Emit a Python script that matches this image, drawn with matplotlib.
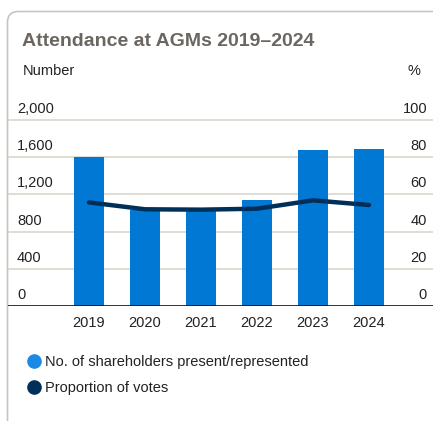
import numpy as np
import matplotlib
matplotlib.use("Agg")
import matplotlib.pyplot as plt
import matplotlib.transforms as mtransforms
from matplotlib.patches import FancyBboxPatch

# data
years = ['2019', '2020', '2021', '2022', '2023', '2024']
shareholders = [1600, 1030, 1020, 1140, 1680, 1690]
votes_pct = [55.7, 52.0, 51.8, 52.3, 56.8, 54.3]
left_ticks = [0, 400, 800, 1200, 1600, 2000]
left_labels = ['0', '400', '800', '1,200', '1,600', '2,000']
right_labels = ['0', '20', '40', '60', '80', '100']

bar_col = '#0078d4'
bar_leg_col = '#1a8ae6'
line_col = '#00305a'
grid_col = '#d6d3c9'
border_col = '#c9c5bd'
text_col = '#222222'

plt.rcParams['font.family'] = ['Liberation Sans', 'DejaVu Sans']

W, H = 433, 421
fig = plt.figure(figsize=(W / 100, H / 100), dpi=100)

# card outline (behind everything)
card = FancyBboxPatch((7.5 / W, -10 / H), 440 / W, (H - 11.5 + 10) / H,
                      boxstyle='round,pad=0,rounding_size=0.025',
                      transform=fig.transFigure, fc='white', ec=border_col, lw=1.2,
                      zorder=-5)
fig.patches.append(card)

# axes: x from px 8 to 433, y zero at px 306, 2000 at px 120
y0_px, y2000_px, top_px = 306, 120, 110
px_per_unit = (y0_px - y2000_px) / 2000
ytop = (y0_px - top_px) / px_per_unit
ax = fig.add_axes([8 / W, (H - y0_px) / H, (W - 8) / W, (y0_px - top_px) / H])
ax.patch.set_alpha(0)

x = np.arange(len(years))
# bar centres at px 89 + 56*i
xl = (8 - 89) / 56
xr = (433 - 89) / 56
ax.set_xlim(xl, xr)
ax.set_ylim(0, ytop)

for t in left_ticks[1:]:
    ax.axhline(t, color=grid_col, lw=1.1, zorder=0)
ax.axhline(0, color='#111111', lw=1.2, zorder=3)

ax.bar(x, shareholders, width=0.54, color=bar_col, zorder=2)

ax2 = ax.twinx()
ax2.patch.set_alpha(0)
ax2.set_ylim(0, ytop / 20)
ax2.plot(x, votes_pct, color=line_col, lw=3.2, solid_capstyle='round',
         solid_joinstyle='round', zorder=4)

for a in (ax, ax2):
    for s in a.spines.values():
        s.set_visible(False)
    a.set_yticks([])

ax.set_xticks(x)
ax.set_xticklabels(years, fontsize=10.5, color=text_col)
ax.tick_params(axis='x', length=0, pad=7.5)

# y labels sit above their grid lines
tr = mtransforms.blended_transform_factory(ax.transAxes, ax.transData)
tr = mtransforms.offset_copy(tr, fig=fig, y=4, units='dots')
for t, ll, rl in zip(left_ticks, left_labels, right_labels):
    ax.text(9 / (W - 8), t, ll, transform=tr, ha='left', va='bottom',
            fontsize=10.5, color=text_col)
    ax.text((427 - 8) / (W - 8), t, rl, transform=tr, ha='right', va='bottom',
            fontsize=10.5, color=text_col)

fig.text(22 / W, 1 - 41 / H, 'Attendance at AGMs 2019–2024', ha='left', va='center',
         fontsize=14, fontweight='bold', color='#6b6660')
fig.text(23 / W, 1 - 71 / H, 'Number', ha='left', va='center', fontsize=10.5, color=text_col)
fig.text(420 / W, 1 - 71 / H, '%', ha='right', va='center', fontsize=10.5, color=text_col)

# legend
leg = [(bar_leg_col, 'No. of shareholders present/represented', 362),
       (line_col, 'Proportion of votes', 388)]
for c, lab, ypx in leg:
    fig.text(45 / W, 1 - ypx / H, lab, ha='left', va='center', fontsize=10.5, color=text_col)
    fig.add_artist(plt.Line2D([34 / W], [1 - (ypx - 1) / H], marker='o', ms=9.5,
                              color=c, transform=fig.transFigure))

fig.savefig('out.png', dpi=100)
